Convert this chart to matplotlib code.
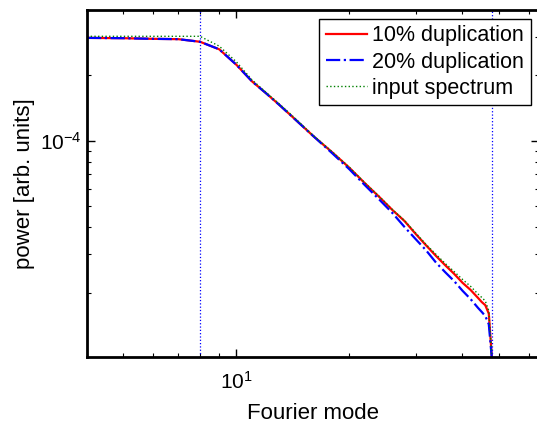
import numpy as np
import matplotlib
matplotlib.use("Agg")
import matplotlib.pyplot as plt
from matplotlib.ticker import LogLocator, NullFormatter

OUT_PATH = "out.png"

# Fourier modes and power
modes = [4, 5, 6, 7, 8, 9, 10, 11, 12, 13, 14, 16, 18, 20, 22, 24, 26, 28,
         30, 32, 34, 36, 38, 40, 42, 44, 45, 46, 47, 48]

dup10 = [2.98e-4, 2.97e-4, 2.95e-4, 2.94e-4, 2.86e-4, 2.64e-4, 2.24e-4,
         1.88e-4, 1.655e-4, 1.466e-4, 1.304e-4, 1.054e-4, 8.85e-5, 7.51e-5,
         6.37e-5, 5.52e-5, 4.81e-5, 4.28e-5, 3.73e-5, 3.30e-5, 2.95e-5,
         2.67e-5, 2.44e-5, 2.22e-5, 2.06e-5, 1.89e-5, 1.81e-5, 1.75e-5,
         1.60e-5, 9.5e-6]

dup20 = [2.98e-4, 2.97e-4, 2.95e-4, 2.94e-4, 2.86e-4, 2.64e-4, 2.24e-4,
         1.88e-4, 1.655e-4, 1.466e-4, 1.304e-4, 1.054e-4, 8.76e-5, 7.39e-5,
         6.24e-5, 5.37e-5, 4.66e-5, 4.02e-5, 3.53e-5, 3.13e-5, 2.75e-5,
         2.48e-5, 2.26e-5, 2.04e-5, 1.87e-5, 1.70e-5, 1.63e-5, 1.56e-5,
         1.43e-5, 9.5e-6]

input_spec = [3.03e-4, 3.03e-4, 3.03e-4, 3.03e-4, 3.03e-4, 2.73e-4, 2.31e-4,
              1.91e-4, 1.67e-4, 1.48e-4, 1.318e-4, 1.06e-4, 8.90e-5, 7.55e-5,
              6.40e-5, 5.55e-5, 4.83e-5, 4.30e-5, 3.77e-5, 3.33e-5, 3.00e-5,
              2.72e-5, 2.50e-5, 2.30e-5, 2.14e-5, 1.97e-5, 1.90e-5, 1.83e-5,
              1.65e-5, 9.5e-6]

# forcing range limits (dotted verticals)
k_bounds = [8, 48]

X_LIM = (4, 64)
Y_LIM = (1.01e-5, 4e-4)


def main():
    plt.rcParams["font.family"] = ["Liberation Sans", "DejaVu Sans"]
    plt.rcParams["mathtext.fontset"] = "custom"
    plt.rcParams["mathtext.rm"] = "Liberation Sans"
    plt.rcParams["mathtext.it"] = "Liberation Sans:italic"

    fig = plt.figure(figsize=(5.37, 4.22), dpi=100)
    ax = fig.add_axes([0.162, 0.154, 0.842, 0.822])

    ax.loglog(modes, dup10, color="red", lw=1.6, ls="-", label="10% duplication")
    ax.loglog(modes, dup20, color="blue", lw=1.6, ls="-.", label="20% duplication")
    ax.loglog(modes, input_spec, color=(0, 0.5, 0), lw=1.0, ls=":", label="input spectrum")
    for k in k_bounds:
        ax.axvline(k, color="blue", lw=0.9, ls=":")

    ax.set_xlim(*X_LIM)
    ax.set_ylim(*Y_LIM)

    ax.xaxis.set_minor_locator(LogLocator(base=10, subs=np.arange(2, 10)))
    ax.yaxis.set_minor_locator(LogLocator(base=10, subs=np.arange(2, 10)))
    ax.xaxis.set_minor_formatter(NullFormatter())
    ax.yaxis.set_minor_formatter(NullFormatter())

    ax.tick_params(which="both", direction="in", top=True, right=True,
                   labelsize=15)
    ax.tick_params(which="major", length=6, width=1.0)
    ax.tick_params(which="minor", length=3, width=0.8)
    ax.tick_params(axis="x", which="major", pad=10)
    for side in ax.spines.values():
        side.set_linewidth(2.0)

    ax.set_xlabel("Fourier mode", fontsize=16, labelpad=7)
    ax.set_ylabel("power [arb. units]", fontsize=16, labelpad=4)

    ax.legend(loc="upper right", fontsize=15.5, fancybox=False,
              edgecolor="black", framealpha=1, borderaxespad=0.4,
              handlelength=1.9, handletextpad=0.25, labelspacing=0.25,
              borderpad=0.3)

    fig.savefig(OUT_PATH, dpi=100)
    plt.close(fig)


if __name__ == "__main__":
    main()
